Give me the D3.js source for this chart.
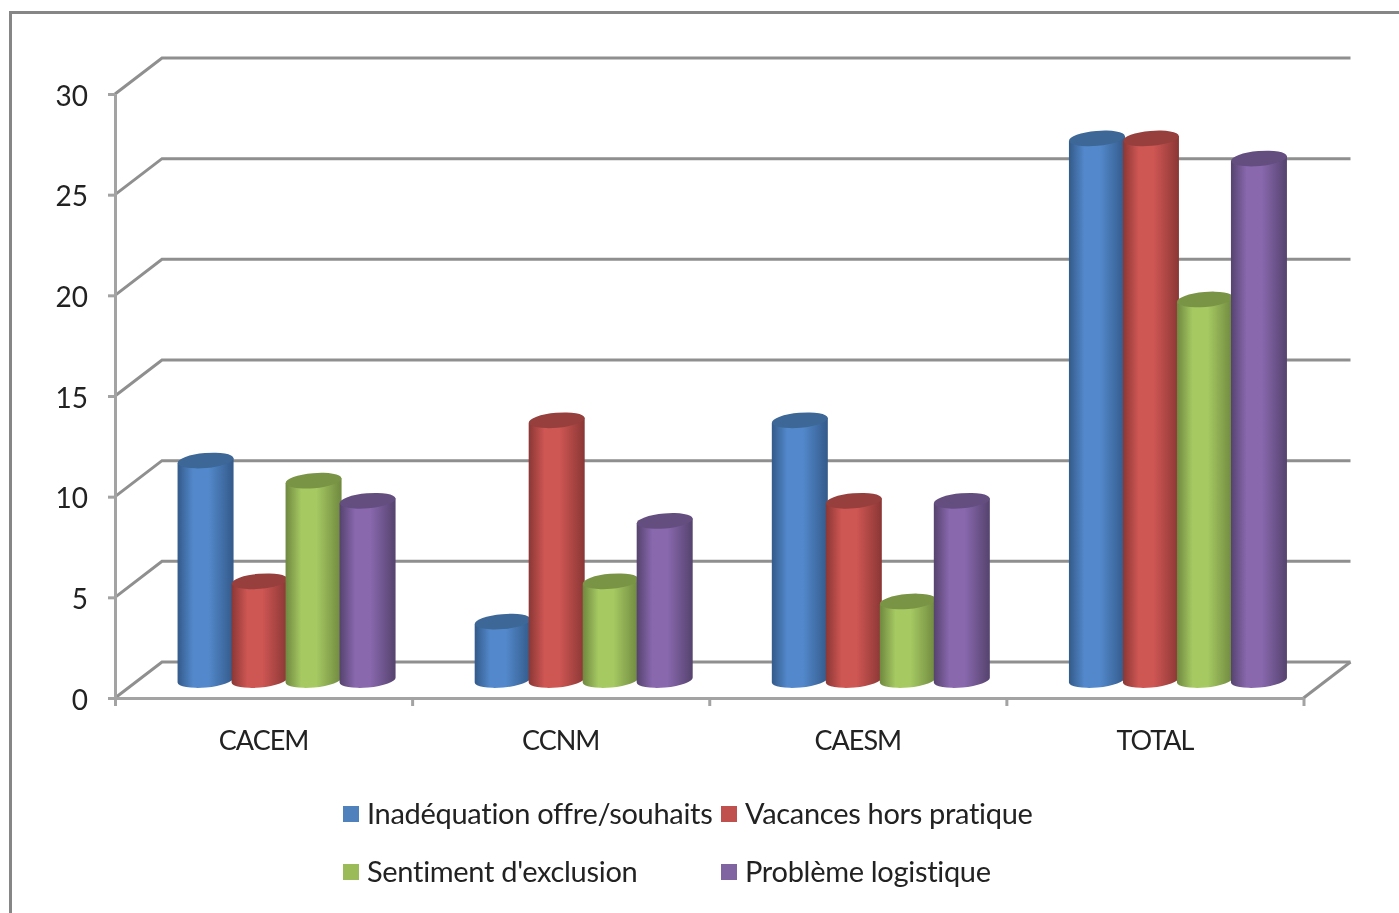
<!DOCTYPE html>
<html lang="fr">
<head>
  <meta charset="UTF-8">
  <title>Chart</title>
  <script src="https://d3js.org/d3.v7.min.js"></script>
  <style>
    body { margin: 0; background: #fff; }
    svg { display: block; filter: blur(0.45px); }
    text { font-family: Lato, "Noto Sans", sans-serif; fill: #222; font-variant-ligatures: none; }
  </style>
</head>
<body>
  <div id="viz"></div>

  <script>
    // Data
    const categories = ['CACEM', 'CCNM', 'CAESM', 'TOTAL'];
    const seriesNames = ['Inadéquation offre/souhaits', 'Vacances hors pratique', "Sentiment d'exclusion", 'Problème logistique'];
    const inadequation = [11, 3, 13, 27];
    const vacances = [5, 13, 9, 27];
    const sentiment = [10, 5, 4, 19];
    const logistique = [9, 8, 9, 26];
    const yTicks = [0, 5, 10, 15, 20, 25, 30];

    const seriesValues = [inadequation, vacances, sentiment, logistique];
    const colors = [
      { edge: '#335a8a', mid: '#5389cc', top: '#3c6796', swatch: '#4f81bd' },
      { edge: '#8a3735', mid: '#ce5653', top: '#963f3d', swatch: '#c0504d' },
      { edge: '#6f883f', mid: '#a6c962', top: '#7a9446', swatch: '#9bbb59' },
      { edge: '#55436e', mid: '#8968ae', top: '#644e80', swatch: '#8064a2' }
    ];

    const W = 1399, H = 913;
    const plot = { left: 115, right: 1303.5, bottom: 698, top: 94 };
    const depthX = 47, depthY = -36;

    const svg = d3.select('#viz').append('svg')
      .attr('width', W)
      .attr('height', H);

    const defs = svg.append('defs');
    colors.forEach((c, i) => {
      const g = defs.append('linearGradient').attr('id', 'cyl' + i);
      g.append('stop').attr('offset', '0%').attr('stop-color', c.edge);
      g.append('stop').attr('offset', '28%').attr('stop-color', c.mid);
      g.append('stop').attr('offset', '55%').attr('stop-color', c.mid);
      g.append('stop').attr('offset', '100%').attr('stop-color', c.edge);
    });

    // Outer frame, runs off the right and bottom of the page
    svg.append('path')
      .attr('d', `M${W + 5},12.5H10.5V${H + 5}`)
      .attr('fill', 'none')
      .attr('stroke', '#868686')
      .attr('stroke-width', 3);

    const y = d3.scaleLinear().domain([0, 30]).range([plot.bottom, plot.top]);
    const x0 = d3.scaleBand().domain(categories).range([plot.left, plot.right]);
    const x1 = d3.scaleBand().domain(d3.range(4)).range([0, 216]);
    const edges = d3.scaleLinear().domain([0, 4]).range([plot.left, plot.right]);

    // Walls and gridlines
    svg.append('g').selectAll('path')
      .data(yTicks)
      .join('path')
        .attr('d', d => `M${plot.left},${y(d)}L${plot.left + depthX},${y(d) + depthY}H${plot.right + depthX}`)
        .attr('fill', 'none')
        .attr('stroke', '#8f8f8f')
        .attr('stroke-width', 3);
    svg.append('line')
      .attr('x1', plot.right).attr('y1', plot.bottom)
      .attr('x2', plot.right + depthX).attr('y2', plot.bottom + depthY)
      .attr('stroke', '#8f8f8f')
      .attr('stroke-width', 3);

    // Axes
    const yAxis = svg.append('g')
      .attr('transform', `translate(${plot.left},0)`)
      .call(d3.axisLeft(y).tickValues(yTicks).tickSize(7).tickPadding(20).tickSizeOuter(0));
    yAxis.selectAll('text').attr('dy', '0.4em').style('font-size', '28px');

    const tickAxis = svg.append('g')
      .attr('transform', `translate(0,${plot.bottom})`)
      .call(d3.axisBottom(edges).tickValues(d3.range(5)).tickSize(8).tickFormat('').tickSizeOuter(0));

    const xAxis = svg.append('g')
      .attr('transform', `translate(0,${plot.bottom})`)
      .call(d3.axisBottom(x0).tickSize(0).tickPadding(33));
    xAxis.select('.domain').remove();
    xAxis.selectAll('text').style('font-size', '27px').style('letter-spacing', '-1px');

    [yAxis, tickAxis].forEach(a => {
      a.selectAll('.domain, .tick line').attr('stroke', '#a3a3a3').attr('stroke-width', 3);
    });

    // Cylinders, drawn left to right so each one overlaps the previous
    const barW = 56, ry = 7.5, tilt = -5, topLift = 16, floorLift = 18;
    const groupOffset = (x0.bandwidth() - 218) / 2 + 23;

    categories.forEach((cat, c) => {
      seriesValues.forEach((vals, s) => {
        const xl = x0(cat) + groupOffset + x1(s);
        const xr = xl + barW;
        const yt = y(vals[c]) - topLift;
        const yb = plot.bottom - floorLift;
        const dy = barW / 2 * Math.tan(tilt * Math.PI / 180);
        const g = svg.append('g');
        g.append('path')
          .attr('d', `M${xl},${yt - dy}L${xl},${yb - dy}A${barW / 2},${ry} ${tilt} 0 0 ${xr},${yb + dy}L${xr},${yt + dy}Z`)
          .attr('fill', `url(#cyl${s})`);
        g.append('ellipse')
          .attr('transform', `translate(${(xl + xr) / 2},${yt}) rotate(${tilt})`)
          .attr('rx', barW / 2)
          .attr('ry', ry)
          .attr('fill', colors[s].top);
      });
    });

    // Legend
    const legendX = [343, 721], legendY = [814, 872];
    seriesNames.forEach((name, i) => {
      const lx = legendX[i % 2], ly = legendY[Math.floor(i / 2)];
      svg.append('rect')
        .attr('x', lx).attr('y', ly - 8)
        .attr('width', 16).attr('height', 16)
        .attr('fill', colors[i].swatch);
      svg.append('text')
        .attr('x', lx + 24).attr('y', ly)
        .attr('dy', '0.35em')
        .style('font-size', '29px')
        .style('letter-spacing', '-0.3px')
        .text(name);
    });
  </script>
</body>
</html>
